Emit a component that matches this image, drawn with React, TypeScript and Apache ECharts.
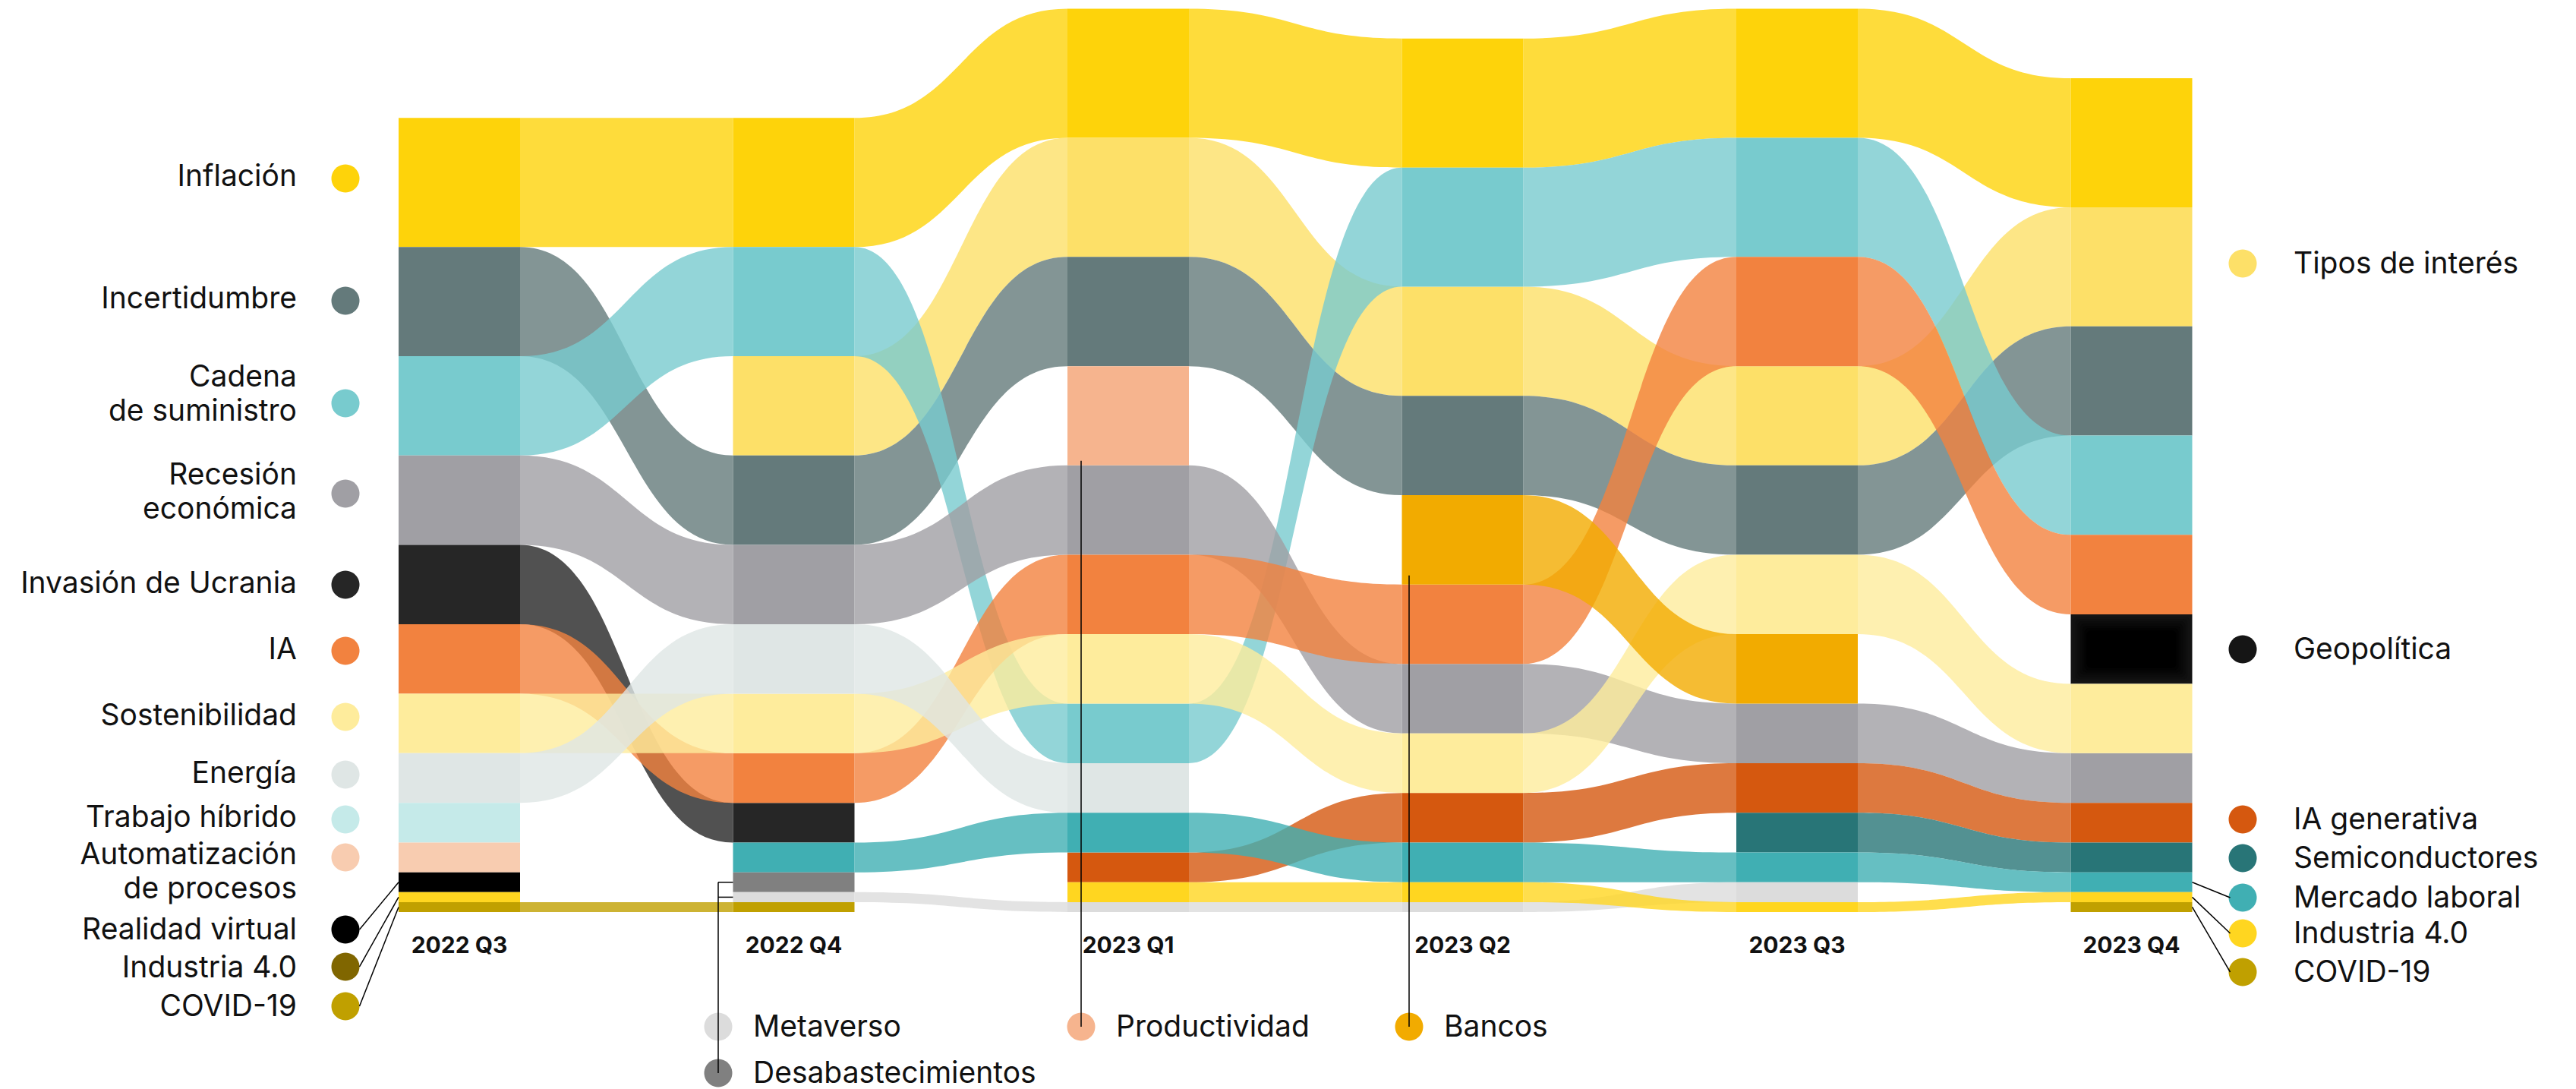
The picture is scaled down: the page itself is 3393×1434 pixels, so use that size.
import React, { useEffect, useRef } from "react";
import * as echarts from "echarts";

// ---------- DATA ----------
const quarters = ["2022 Q3", "2022 Q4", "2023 Q1", "2023 Q2", "2023 Q3", "2023 Q4"];

const topics = [
  "Inflación", "Tipos de interés", "Incertidumbre", "Cadena de suministro", "Recesión económica",
  "Invasión de Ucrania", "IA", "Geopolítica", "Sostenibilidad", "Energía", "Trabajo híbrido",
  "Automatización de procesos", "Realidad virtual", "Productividad", "Bancos", "IA generativa",
  "Semiconductores", "Mercado laboral", "Desabastecimientos", "Metaverso", "Industria 4.0", "COVID-19",
];

const N = null;
const inflacion = [13, 13, 13, 13, 13, 13];
const tiposInteres = [N, 10, 12, 11, 10, 12];
const incertidumbre = [11, 9, 11, 10, 9, 11];
const cadenaSuministro = [10, 11, 6, 12, 12, 10];
const recesion = [9, 8, 9, 7, 6, 5];
const ucrania = [8, 4, N, N, N, N];
const ia = [7, 5, 8, 8, 11, 8];
const geopolitica = [N, N, N, N, N, 7];
const sostenibilidad = [6, 6, 7, 6, 8, 7];
const energia = [5, 7, 5, N, N, N];
const trabajoHibrido = [4, N, N, N, N, N];
const automatizacion = [3, N, N, N, N, N];
const realidadVirtual = [2, N, N, N, N, N];
const productividad = [N, N, 10, N, N, N];
const bancos = [N, N, N, 9, 7, N];
const iaGenerativa = [N, N, 3, 5, 5, 4];
const semiconductores = [N, N, N, N, 4, 3];
const mercadoLaboral = [N, 3, 4, 4, 3, 2];
const desabastecimientos = [N, 2, N, N, N, N];
const metaverso = [N, 1, 1, 1, 2, N];
const industria40 = [1, N, 2, 2, 1, 1];
const covid19 = [1, 1, N, N, N, 1];

const scores: (number | null)[][] = [
  inflacion, tiposInteres, incertidumbre, cadenaSuministro, recesion, ucrania, ia, geopolitica,
  sostenibilidad, energia, trabajoHibrido, automatizacion, realidadVirtual, productividad, bancos,
  iaGenerativa, semiconductores, mercadoLaboral, desabastecimientos, metaverso, industria40, covid19,
];

// ---------- STYLES ----------
const colors = [
  "#FED30A", "#FDE068", "#647A7B", "#78CBCE", "#A09FA4", "#262626", "#F2823F", "#151515",
  "#FEEC9C", "#DFE6E5", "#C5EAE9", "#F8CCB0", "#000000", "#F6B48E", "#F2AB00", "#D5580F",
  "#287577", "#40AFB3", "#808080", "#DCDCDC", "#FFD620", "#C0A000",
];
const geoShades = ["#121212", "#0f0f0f", "#0c0c0c", "#090909", "#060606", "#030303", "#000000"];
const RIBBON_ALPHA = 0.8;
const HW = 80 / 440.5; // half column width in x-axis units
const FONT = "Inter, 'Noto Sans', sans-serif";
const TXT = 39;
const DOT_R = 18.5;

// legend layout
const leftLegend = [
  { label: "Inflación", t: "Inflación", ty: 230, dy: 235 },
  { label: "Incertidumbre", t: "Incertidumbre", ty: 391, dy: 396 },
  { label: "Cadena\nde suministro", t: "Cadena de suministro", ty: 517, dy: 531 },
  { label: "Recesión\neconómica", t: "Recesión económica", ty: 646, dy: 650 },
  { label: "Invasión de Ucrania", t: "Invasión de Ucrania", ty: 766, dy: 770 },
  { label: "IA", t: "IA", ty: 853, dy: 857 },
  { label: "Sostenibilidad", t: "Sostenibilidad", ty: 940, dy: 944 },
  { label: "Energía", t: "Energía", ty: 1016, dy: 1020 },
  { label: "Trabajo híbrido", t: "Trabajo híbrido", ty: 1074, dy: 1079 },
  { label: "Automatización\nde procesos", t: "Automatización de procesos", ty: 1146, dy: 1129 },
  { label: "Realidad virtual", t: "Realidad virtual", ty: 1222, dy: 1224, lead: 0 },
  { label: "Industria 4.0", t: "Industria 4.0", ty: 1272, dy: 1273, lead: 0, color: "#806600" },
  { label: "COVID-19", t: "COVID-19", ty: 1323, dy: 1325, lead: 0 },
];
const rightLegend = [
  { label: "Tipos de interés", t: "Tipos de interés", dy: 347 },
  { label: "Geopolítica", t: "Geopolítica", dy: 855 },
  { label: "IA generativa", t: "IA generativa", dy: 1079 },
  { label: "Semiconductores", t: "Semiconductores", dy: 1130 },
  { label: "Mercado laboral", t: "Mercado laboral", dy: 1182, lead: 5 },
  { label: "Industria 4.0", t: "Industria 4.0", dy: 1229, lead: 5 },
  { label: "COVID-19", t: "COVID-19", dy: 1280, lead: 5 },
];
const bottomLegend = [
  { label: "Metaverso", t: "Metaverso", dx: 946, dy: 1352 },
  { label: "Desabastecimientos", t: "Desabastecimientos", dx: 946, dy: 1413 },
  { label: "Productividad", t: "Productividad", dx: 1424, dy: 1352 },
  { label: "Bancos", t: "Bancos", dx: 1856, dy: 1352 },
];

function rgba(hex: string, a: number) {
  const n = parseInt(hex.slice(1), 16);
  return `rgba(${(n >> 16) & 255},${(n >> 8) & 255},${n & 255},${a})`;
}

type Seg = { y0: number; y1: number };

function buildSegments() {
  const segs: (Seg | null)[][] = topics.map(() => quarters.map(() => null));
  quarters.forEach((_, q) => {
    const present = topics.map((_, t) => t).filter((t) => scores[t][q] != null);
    present.sort((a, b) => (scores[b][q] as number) - (scores[a][q] as number) || a - b);
    let top = present.reduce((s, t) => s + (scores[t][q] as number), 0);
    present.forEach((t) => {
      const v = scores[t][q] as number;
      segs[t][q] = { y1: top, y0: top - v };
      top -= v;
    });
  });
  return segs;
}

const GEO = topics.indexOf("Geopolítica");

export default function App() {
  const ref = useRef<HTMLDivElement>(null);
  useEffect(() => {
    const chart = echarts.init(ref.current!, null, { renderer: "svg" });
    const segs = buildSegments();
    const barData: number[][] = [];
    const ribbonData: number[][] = [];
    topics.forEach((_, t) => {
      quarters.forEach((_, q) => {
        const s = segs[t][q];
        if (!s) return;
        barData.push([q, s.y0, s.y1, t]);
        const n = q < quarters.length - 1 ? segs[t][q + 1] : null;
        if (n) ribbonData.push([q, s.y0, s.y1, n.y0, n.y1, t]);
      });
    });

    const option: any = {
      animation: false,
      backgroundColor: "#ffffff",
      grid: { left: 605, right: 585.5, top: 11.6, bottom: 233 },
      xAxis: {
        type: "value", min: 0, max: 5, interval: 1,
        axisLine: { show: false }, axisTick: { show: false }, splitLine: { show: false },
        axisLabel: {
          margin: 28, fontSize: 30, fontWeight: "bold", color: "#111", fontFamily: FONT,
          formatter: (v: number) => quarters[v] ?? "",
        },
      },
      yAxis: { type: "value", min: 0, max: 91, show: false },
      series: [
        {
          type: "custom", name: "ribbons", data: ribbonData, z: 2, clip: false,
          renderItem: (_p: any, api: any) => {
            const q = api.value(0), t = api.value(5);
            const xa = api.coord([q + HW, 0])[0];
            const xb = api.coord([q + 1 - HW, 0])[0];
            const xm = (xa + xb) / 2;
            const ya0 = api.coord([0, api.value(1)])[1];
            const ya1 = api.coord([0, api.value(2)])[1];
            const yb0 = api.coord([0, api.value(3)])[1];
            const yb1 = api.coord([0, api.value(4)])[1];
            const d = `M${xa},${ya1} C${xm},${ya1} ${xm},${yb1} ${xb},${yb1} L${xb},${yb0} C${xm},${yb0} ${xm},${ya0} ${xa},${ya0} Z`;
            return { type: "path", shape: { pathData: d }, style: { fill: rgba(colors[t], RIBBON_ALPHA) } };
          },
        },
        {
          type: "custom", name: "bars", data: barData, z: 3, clip: false,
          renderItem: (_p: any, api: any) => {
            const q = api.value(0), t = api.value(3);
            const p0 = api.coord([q - HW, api.value(2)]);
            const p1 = api.coord([q + HW, api.value(1)]);
            const w = p1[0] - p0[0], h = p1[1] - p0[1];
            const base = {
              type: "rect",
              shape: { x: p0[0], y: p0[1], width: w, height: h },
              style: { fill: colors[t] },
            };
            if (t !== GEO) return base;
            // soft dark vignette for Geopolítica
            const children: any[] = [base];
            geoShades.forEach((c, i) => {
              const ins = 3 * (i + 1);
              children.push({
                type: "rect",
                shape: { x: p0[0] + ins, y: p0[1] + ins, width: w - 2 * ins, height: h - 2 * ins, r: 6 },
                style: { fill: c },
              });
            });
            return { type: "group", children };
          },
        },
      ],
    };
    chart.setOption(option);

    const px = (x: number, y: number) => chart.convertToPixel({ gridIndex: 0 }, [x, y]) as number[];
    const mid = (name: string, q: number) => {
      const s = segs[topics.indexOf(name)][q]!;
      return px(q, (s.y0 + s.y1) / 2)[1];
    };
    const colLeft = (q: number) => px(q - HW, 0)[0];
    const colRight = (q: number) => px(q + HW, 0)[0];

    const g: any[] = [];
    const textStyle = (text: string, x: number, y: number, align: string) => ({
      type: "text", z: 100,
      style: { text, x, y, align, verticalAlign: "middle", font: `${TXT}px ${FONT}`, fill: "#111", lineHeight: 45 },
    });
    const dot = (x: number, y: number, fill: string) => ({
      type: "circle", z: 100, shape: { cx: x, cy: y, r: DOT_R }, style: { fill },
    });
    const line = (x1: number, y1: number, x2: number, y2: number) => ({
      type: "line", z: 101, shape: { x1, y1, x2, y2 }, style: { stroke: "#000", lineWidth: 1.5 },
    });

    leftLegend.forEach((l: any) => {
      const t = topics.indexOf(l.t);
      g.push(textStyle(l.label, 391, l.ty, "right"));
      g.push(dot(455, l.dy, l.color || colors[t]));
      if (l.lead === 0) g.push(line(colLeft(0), mid(l.t, 0), 455 + DOT_R, l.dy));
    });
    rightLegend.forEach((l: any) => {
      const t = topics.indexOf(l.t);
      g.push(textStyle(l.label, 3021, l.dy - 2, "left"));
      g.push(dot(2954, l.dy, colors[t]));
      if (l.lead === 5) g.push(line(colRight(5), mid(l.t, 5), 2954 - DOT_R + 2, l.dy));
    });
    bottomLegend.forEach((l: any) => {
      const t = topics.indexOf(l.t);
      g.push(textStyle(l.label, l.dx + 46, l.dy - 2, "left"));
      g.push(dot(l.dx, l.dy, colors[t]));
    });
    // bracket for Metaverso / Desabastecimientos on 2022 Q4
    const dMid = mid("Desabastecimientos", 1);
    const mMid = mid("Metaverso", 1);
    g.push(line(946, dMid, colLeft(1), dMid));
    g.push(line(946, mMid, colLeft(1), mMid));
    g.push(line(946, dMid, 946, 1413));
    // Productividad and Bancos pointers
    const ps = segs[topics.indexOf("Productividad")][2]!;
    g.push(line(1424, px(2, ps.y0)[1] - 6, 1424, 1352));
    const bs = segs[topics.indexOf("Bancos")][3]!;
    g.push(line(1856, px(3, bs.y0)[1] - 12, 1856, 1352));

    chart.setOption({ graphic: { elements: g } });
    return () => chart.dispose();
  }, []);
  return (
    <div
      ref={ref}
      style={{ position: "fixed", left: 0, top: 0, width: 3393, height: 1434, background: "#fff" }}
    />
  );
}
